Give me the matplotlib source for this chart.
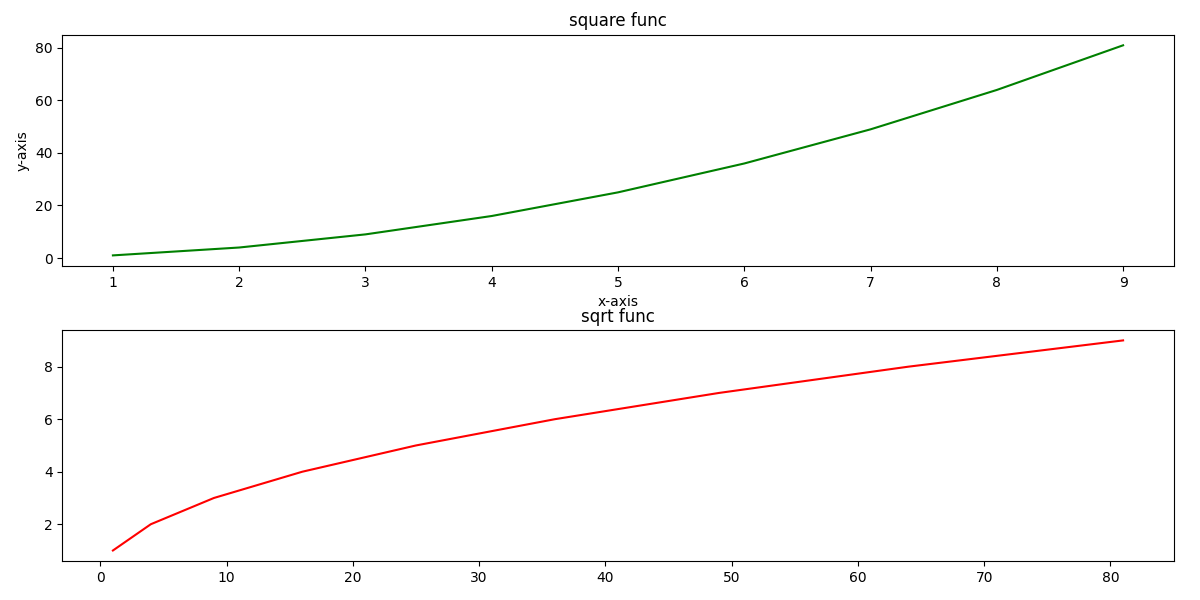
import matplotlib
matplotlib.use("Agg")
import matplotlib.pyplot as plt

numbers = [1, 2, 3, 4, 5, 6, 7, 8, 9]
squares = [1, 4, 9, 16, 25, 36, 49, 64, 81]

fig, (ax_square, ax_sqrt) = plt.subplots(2, 1, figsize=(12, 6), dpi=100)

ax_square.plot(numbers, squares, color="green")
ax_square.set_title("square func")
ax_square.set_xlabel("x-axis")
ax_square.set_ylabel("y-axis")

ax_sqrt.plot(squares, numbers, color="red")
ax_sqrt.set_title("sqrt func")

fig.subplots_adjust(left=0.052, right=0.978, top=0.942, bottom=0.065, hspace=0.277)
fig.savefig("out.png")
